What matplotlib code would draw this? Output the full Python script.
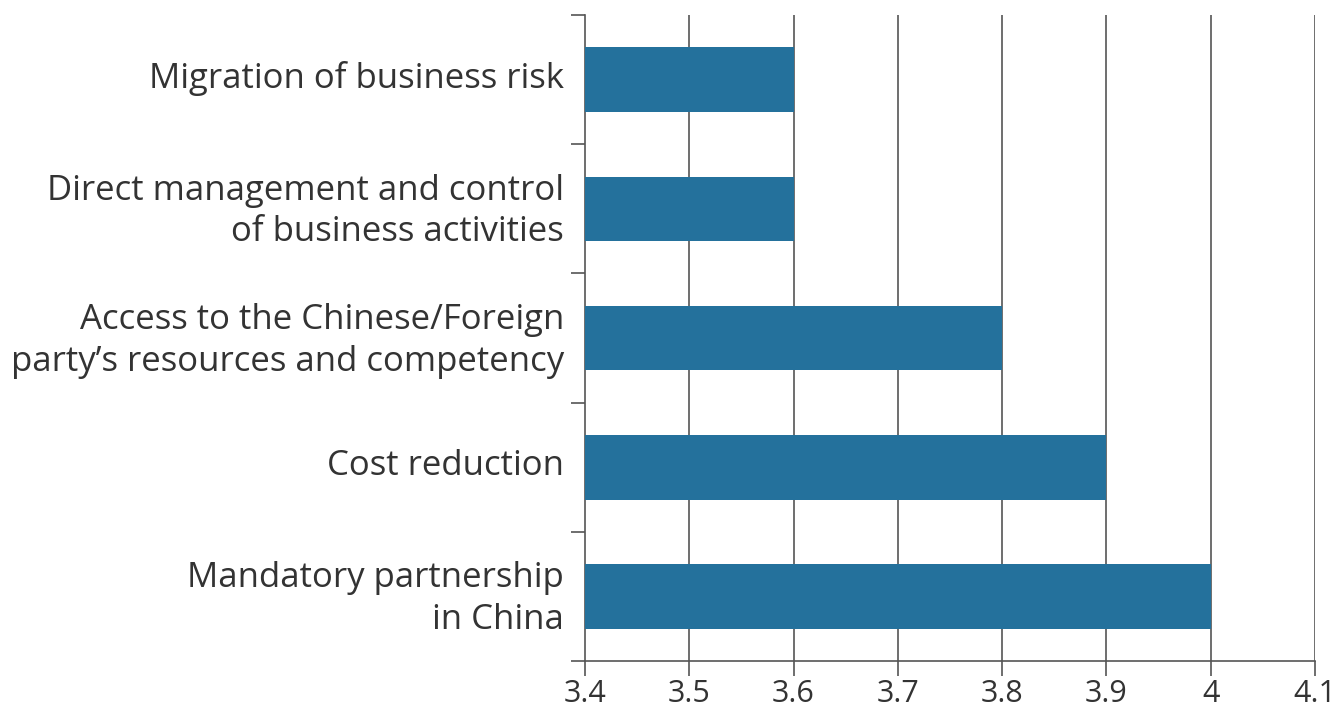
import numpy as np
import matplotlib.pyplot as plt

categories = [
    "Migration of business risk",
    "Direct management and control\nof business activities",
    "Access to the Chinese/Foreign\nparty\u2019s resources and competency",
    "Cost reduction",
    "Mandatory partnership\nin China",
]
values = [3.6, 3.6, 3.8, 3.9, 4.0]
xticks = [3.4, 3.5, 3.6, 3.7, 3.8, 3.9, 4.0, 4.1]
xtick_labels = ["3.4", "3.5", "3.6", "3.7", "3.8", "3.9", "4", "4.1"]

plt.rcParams['font.family'] = ['Open Sans', 'DejaVu Sans']

fig = plt.figure(figsize=(13.37, 7.09), dpi=100)
ax = fig.add_axes([585 / 1337, 48 / 709, 730 / 1337, 646 / 709])

grid_c = '#555555'
text_c = '#333333'

y = np.arange(len(categories))
ax.barh(y, [v - 3.4 for v in values], left=3.4, height=0.5, color='#24719c', zorder=3)

ax.set_xlim(3.4, 4.1)
ax.set_ylim(len(categories) - 0.5, -0.5)
ax.set_xticks(xticks)
ax.set_xticklabels(xtick_labels)
# labels sit a touch above the bar centres
ax.set_yticks(y - 0.04)
ax.set_yticklabels(categories, linespacing=1.3)
ax.set_yticks(np.arange(-0.5, len(categories) + 0.5, 1), minor=True)

for x in xticks[1:]:
    ax.axvline(x, color=grid_c, lw=1.2, zorder=1)

for side in ['top', 'right']:
    ax.spines[side].set_visible(False)
for side in ['left', 'bottom']:
    ax.spines[side].set_color(grid_c)
    ax.spines[side].set_linewidth(1.2)

ax.tick_params(axis='y', which='major', length=0, pad=15, labelsize=25, labelcolor=text_c)
ax.tick_params(axis='y', which='minor', length=10, width=1.2, color=grid_c)
ax.tick_params(axis='x', which='major', length=11, width=1.2, color=grid_c,
               labelsize=22, labelcolor=text_c, pad=2)

fig.savefig('out.png', dpi=100)
